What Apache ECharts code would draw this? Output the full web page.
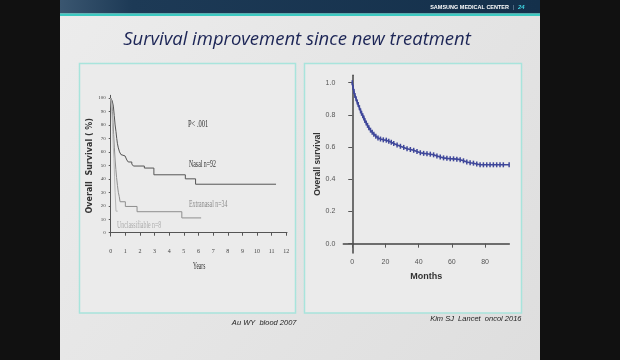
<!DOCTYPE html>
<html><head><meta charset="utf-8">
<script src="https://cdn.jsdelivr.net/npm/echarts@6/dist/echarts.min.js"></script>
<style>html,body{margin:0;padding:0;background:#111;}#c{width:620px;height:360px;}</style>
</head><body><div id="c"></div>
<script>
// ---- Data (left: Au WY, blood 2007; years vs overall survival %) ----
const nasalPoints = [[0,100],[0.1,98],[0.18,94],[0.24,87],[0.3,80],[0.36,75],[0.41,70],[0.46,66],[0.52,63],[0.6,60],[0.7,58],[0.8,57],[0.98,56],[1.1,54],[1.2,52.5],[1.44,51],[1.55,49.5],[2.3,48],[2.95,43],[5.1,40],[5.8,36],[11.3,36]];
const extranasalPoints = [[0,100],[0.07,97],[0.12,90],[0.16,82],[0.2,73],[0.25,63],[0.3,54],[0.35,47],[0.4,41],[0.46,35],[0.52,30],[0.58,27],[0.64,23],[1.0,19.5],[1.8,15.6],[4.86,11],[6.18,11]];
const unclassPoints = [[0,100],[0.08,88],[0.14,75],[0.18,63],[0.22,55],[0.26,42],[0.3,30],[0.36,16],[0.48,16]];
const leftXTicks = [0,1,2,3,4,5,6,7,8,9,10,11,12];
const leftYTicks = [0,10,20,30,40,50,60,70,80,90,100];
// ---- Data (right: Kim SJ, Lancet Oncol 2016; months vs overall survival) ----
const rightPoints = [[0,1.0],[0.5,0.97],[1,0.945],[1.6,0.92],[2.3,0.9],[3,0.88],[3.6,0.865],[4.3,0.845],[5,0.825],[5.6,0.81],[6.3,0.795],[7,0.78],[7.6,0.765],[8.4,0.75],[9.2,0.735],[10,0.72],[11,0.705],[12,0.692],[13,0.68],[14.2,0.668],[15.5,0.657],[17,0.65],[18.7,0.645],[20.5,0.643],[22,0.637],[23.5,0.63],[25,0.622],[27,0.613],[29,0.605],[31,0.598],[33,0.59],[35,0.585],[37,0.58],[39,0.572],[41,0.565],[43,0.561],[45,0.559],[47,0.556],[49,0.552],[51,0.545],[53,0.538],[55,0.533],[57,0.53],[59,0.528],[61,0.527],[63,0.525],[65,0.522],[67,0.515],[69,0.507],[71,0.503],[73,0.5],[75,0.495],[77,0.49],[79,0.49],[81,0.49],[83,0.49],[85,0.49],[87,0.49],[89,0.49],[91,0.49],[94.5,0.49]];
const rightXTicks = [0,20,40,60,80];
const rightYTicks = [0,0.2,0.4,0.6,0.8,1.0];

const chart = echarts.init(document.getElementById('c'), null, {renderer:'canvas'});

function txt(x,y,text,o){
  o = o || {};
  return {type:'text', x:x, y:y, z:o.z||5, scaleX:o.scaleX||1, silent:true,
    style:{text:text, x:0, y:0, fill:o.fill||'#333', fontSize:o.fontSize||10,
      fontFamily:o.fontFamily||'Liberation Sans', fontStyle:o.fontStyle||'normal',
      fontWeight:o.fontWeight||'normal', align:o.align||'left', textAlign:o.align||'left',
      verticalAlign:'middle', textVerticalAlign:'middle'}};
}

const option = {
  animation:false,
  backgroundColor:'#111111',
  graphic:{elements:[
    {type:'rect', z:-10, silent:true, shape:{x:60,y:0,width:480,height:360},
      style:{fill:{type:'linear',x:0,y:0,x2:1,y2:1,colorStops:[{offset:0,color:'#ececec'},{offset:1,color:'#dedede'}]}}},
    {type:'rect', z:-9, silent:true, shape:{x:60,y:0,width:480,height:13.5},
      style:{fill:{type:'linear',x:0,y:0,x2:1,y2:0,colorStops:[{offset:0,color:'#3a5670'},{offset:0.15,color:'#1d3a56'},{offset:1,color:'#14304b'}]}}},
    {type:'rect', z:-9, silent:true, shape:{x:60,y:13.5,width:480,height:2.5}, style:{fill:'#3cc9c1'}},
    txt(509,7,'SAMSUNG MEDICAL CENTER',{fill:'#ffffff',fontSize:5.5,fontWeight:'bold',align:'right'}),
    txt(513.5,7,'|',{fill:'#8aa0b5',fontSize:6,align:'center'}),
    txt(518,7,'24',{fill:'#3fd6e3',fontSize:6,fontWeight:'bold',fontStyle:'italic'}),
    txt(297,40,'Survival improvement since new treatment',{fill:'#1c2556',fontSize:18.5,fontFamily:'Open Sans',fontStyle:'italic',align:'center'}),
    {type:'rect', z:-8, silent:true, shape:{x:79.5,y:63.5,width:216,height:249.5}, style:{fill:'#ebebeb',stroke:'#a8e4dc',lineWidth:1.5}},
    {type:'rect', z:-8, silent:true, shape:{x:304.5,y:63.5,width:217,height:249.5}, style:{fill:'#ebebeb',stroke:'#a8e4dc',lineWidth:1.5}},
    txt(188,124,'P< .001',{fill:'#333',fontSize:10,fontFamily:'Liberation Serif',scaleX:0.65}),
    txt(189,164,'Nasal n=92',{fill:'#333',fontSize:10.5,fontFamily:'Liberation Serif',scaleX:0.56}),
    txt(189,204,'Extranasal n=34',{fill:'#8a8a8a',fontSize:10.5,fontFamily:'Liberation Serif',scaleX:0.56}),
    txt(117,225,'Unclassifiable n=8',{fill:'#ababab',fontSize:10.5,fontFamily:'Liberation Serif',scaleX:0.56}),
    txt(193,266,'Years',{fill:'#333',fontSize:10,fontFamily:'Liberation Serif',scaleX:0.55}),
    txt(296.5,322.5,'Au WY  blood 2007',{fill:'#222',fontSize:7.5,fontStyle:'italic',align:'right'}),
    txt(521.5,319,'Kim SJ  Lancet  oncol 2016',{fill:'#222',fontSize:7.5,fontStyle:'italic',align:'right'})
  ]},
  grid:[
    {left:109.7, top:95.3, width:177.3, height:140.8},
    {left:343.3, top:75.3, width:166, height:177.7}
  ],
  xAxis:[
    {type:'value', gridIndex:0, min:-0.07, max:12.05,
      axisLine:{lineStyle:{color:'#555',width:1}},
      axisTick:{show:true, customValues:leftXTicks, length:3, lineStyle:{color:'#555'}},
      axisLabel:{customValues:leftXTicks, fontSize:6, color:'#444', fontFamily:'Liberation Serif', margin:12},
      splitLine:{show:false}},
    {type:'value', gridIndex:1, min:-5.4, max:94.6,
      name:'Months', nameLocation:'middle', nameGap:19,
      nameTextStyle:{fontSize:9, fontWeight:'bold', color:'#333', fontFamily:'Liberation Sans'},
      axisLine:{lineStyle:{color:'#444',width:1.5}},
      axisTick:{show:true, customValues:rightXTicks, length:4, lineStyle:{color:'#555'}},
      axisLabel:{customValues:rightXTicks, fontSize:7, color:'#555', margin:6},
      splitLine:{show:false}}
  ],
  yAxis:[
    {type:'value', gridIndex:0, min:-2.5, max:102,
      name:'Overall  Survival ( %)', nameLocation:'middle', nameGap:13, nameRotate:90,
      nameTextStyle:{fontSize:8, fontWeight:'bold', color:'#333', fontFamily:'DejaVu Sans'},
      axisLine:{lineStyle:{color:'#555',width:1}},
      axisTick:{show:true, customValues:leftYTicks, length:2, lineStyle:{color:'#555'}},
      axisLabel:{customValues:leftYTicks, fontSize:5, color:'#444', fontFamily:'Liberation Serif', margin:4},
      splitLine:{show:false}},
    {type:'value', gridIndex:1, min:-0.058, max:1.046,
      name:'Overall survival', nameLocation:'middle', nameGap:18, nameRotate:90,
      nameTextStyle:{fontSize:8.5, fontWeight:'bold', color:'#333', fontFamily:'Liberation Sans'},
      axisLine:{lineStyle:{color:'#444',width:1.5}},
      axisTick:{show:true, customValues:rightYTicks, length:4, lineStyle:{color:'#555'}},
      axisLabel:{customValues:rightYTicks, fontSize:7, color:'#555', margin:8, formatter:function(v){return v.toFixed(1);}},
      splitLine:{show:false}}
  ],
  series:[
    {name:'Nasal n=92', type:'line', xAxisIndex:0, yAxisIndex:0, step:'end', showSymbol:false, data:nasalPoints,
      lineStyle:{color:'#555',width:1}},
    {name:'Extranasal n=34', type:'line', xAxisIndex:0, yAxisIndex:0, step:'end', showSymbol:false, data:extranasalPoints,
      lineStyle:{color:'#8e8e8e',width:1}},
    {name:'Unclassifiable n=8', type:'line', xAxisIndex:0, yAxisIndex:0, step:'end', showSymbol:false, data:unclassPoints,
      lineStyle:{color:'#b8b8b8',width:1}},
    {name:'Overall survival', type:'line', xAxisIndex:1, yAxisIndex:1, data:rightPoints,
      symbol:'rect', symbolSize:[1.5,5], showAllSymbol:true,
      itemStyle:{color:'#3f479a'}, lineStyle:{color:'#3f479a',width:1.6}}
  ]
};
chart.setOption(option);
</script>
</body></html>
